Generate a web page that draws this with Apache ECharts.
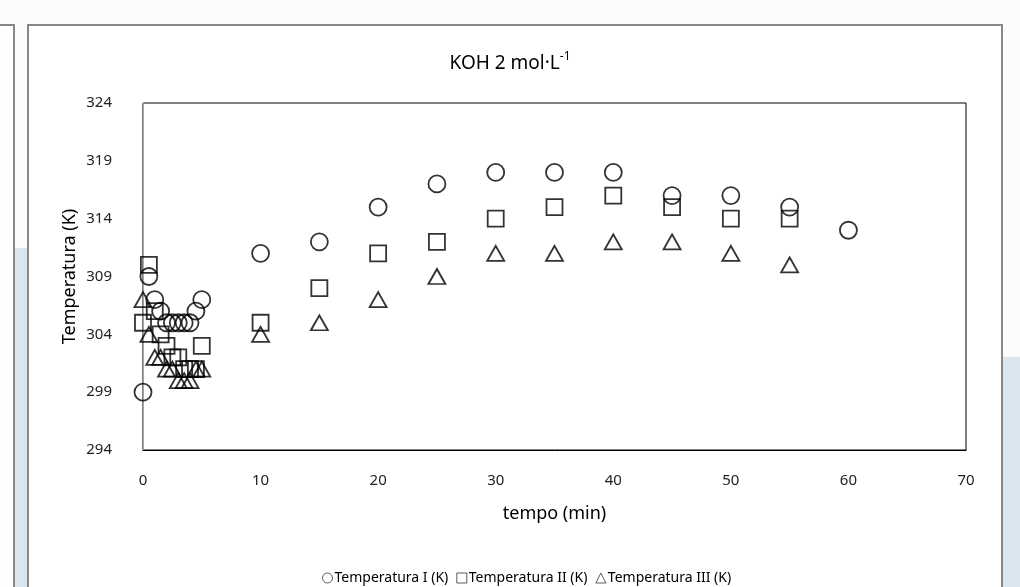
<!DOCTYPE html>
<html>
<head>
<meta charset="utf-8">
<title>KOH 2 mol·L-1</title>
<script src="https://cdn.jsdelivr.net/npm/echarts@6/dist/echarts.min.js"></script>
<style>
  html, body {
    margin: 0;
    padding: 0;
    width: 1020px;
    height: 587px;
    overflow: hidden;
    background: #fcfcfc;
    font-family: "Noto Sans", sans-serif;
  }
  /* light blue bands behind the panels */
  .band-left {
    position: absolute;
    left: 13px;
    top: 248px;
    width: 14px;
    height: 400px;
    background: #dae6ef;
  }
  .band-right {
    position: absolute;
    left: 1003px;
    top: 357px;
    width: 20px;
    height: 300px;
    background: #dae6ef;
  }
  .panel-left {
    position: absolute;
    left: -4px;
    top: 24px;
    width: 15px;
    height: 600px;
    border: 2px solid #888;
    background: #fefefe;
  }
  .chart-box {
    position: absolute;
    left: 27px;
    top: 24px;
    width: 972px;
    height: 600px;
    border: 2px solid #888;
    background: #fff;
  }
  #main {
    position: absolute;
    left: 0;
    top: 0;
    width: 1020px;
    height: 587px;
  }
</style>
</head>
<body>
<div class="band-left"></div>
<div class="band-right"></div>
<div class="panel-left"></div>
<div class="chart-box"></div>
<div id="main"></div>

<script>
// 数据 (tempo em min, temperatura em K)
var tempoI = [0, 0.5, 1, 1.5, 2, 2.5, 3, 3.5, 4, 4.5, 5, 10, 15, 20, 25, 30, 35, 40, 45, 50, 55, 60];
var tempI = [299, 309, 307, 306, 305, 305, 305, 305, 305, 306, 307, 311, 312, 315, 317, 318, 318, 318, 316, 316, 315, 313];

var tempoII = [0, 0.5, 1, 1.5, 2, 2.5, 3, 3.5, 4, 4.5, 5, 10, 15, 20, 25, 30, 35, 40, 45, 50, 55];
var tempII = [305, 310, 306, 304, 303, 302, 302, 301, 301, 301, 303, 305, 308, 311, 312, 314, 315, 316, 315, 314, 314];

var tempoIII = [0, 0.5, 1, 1.5, 2, 2.5, 3, 3.5, 4, 4.5, 5, 10, 15, 20, 25, 30, 35, 40, 45, 50, 55];
var tempIII = [307, 304, 302, 302, 301, 301, 300, 300, 300, 301, 301, 304, 305, 307, 309, 311, 311, 312, 312, 311, 310];

var seriesNames = ["Temperatura I (K)", "Temperatura II (K)", "Temperatura III (K)"];
var xTicks = [0, 10, 20, 30, 40, 50, 60, 70];
var yTicks = [294, 299, 304, 309, 314, 319, 324];

function pairs(xs, ys) {
  return xs.map(function (x, i) {
    return [x, ys[i]];
  });
}

var font = "Noto Sans";
var hollow = {
  color: "transparent",
  borderColor: "#000",
  borderWidth: 1.8
};

function makeSeries(name, symbol, size, data) {
  return {
    name: name,
    type: "scatter",
    symbol: symbol,
    symbolSize: size,
    itemStyle: hollow,
    data: data
  };
}

var myChart = echarts.init(document.getElementById("main"), null, { renderer: "canvas" });

var options = {
  animation: false,
  backgroundColor: "transparent",
  textStyle: { fontFamily: font },
  title: {
    text: "{a|KOH 2 mol·L}{b|-1}",
    left: "center",
    top: 46,
    textStyle: {
      fontWeight: "normal",
      rich: {
        a: { fontSize: 19, fontFamily: font, fontWeight: "normal", color: "#000", lineHeight: 25 },
        b: { fontSize: 12, fontFamily: font, fontWeight: "normal", color: "#000", verticalAlign: "top", lineHeight: 13 }
      }
    }
  },
  legend: {
    top: 566,
    left: 317,
    itemWidth: 10,
    itemHeight: 10,
    itemGap: 8,
    itemStyle: { color: "transparent", borderColor: "#333", borderWidth: 1 },
    textStyle: { fontSize: 14, color: "#000", fontFamily: font, padding: [0, 0, 0, -3] },
    data: [
      { name: seriesNames[0], icon: "circle" },
      { name: seriesNames[1], icon: "rect" },
      { name: seriesNames[2], icon: "triangle" }
    ]
  },
  grid: {
    left: 143,
    right: 54,
    top: 103,
    bottom: 137,
    containLabel: false,
    show: true,
    borderColor: "#000",
    borderWidth: 1,
    backgroundColor: "#fff"
  },
  xAxis: {
    type: "value",
    min: xTicks[0],
    max: xTicks[xTicks.length - 1],
    interval: 10,
    name: "tempo (min)",
    nameLocation: "middle",
    nameGap: 55,
    nameTextStyle: { fontSize: 18, color: "#000", fontFamily: font },
    axisLine: { show: true, lineStyle: { color: "#000", width: 1 } },
    axisTick: { show: false },
    splitLine: { show: false },
    axisLabel: { fontSize: 15, color: "#222", margin: 23, fontFamily: font }
  },
  yAxis: {
    type: "value",
    min: yTicks[0],
    max: yTicks[yTicks.length - 1],
    interval: 5,
    name: "Temperatura (K)",
    nameLocation: "middle",
    nameGap: 64,
    nameMoveOverlap: false,
    nameTextStyle: { fontSize: 18, color: "#000", fontFamily: font },
    axisLine: { show: true, lineStyle: { color: "#a6a6a6", width: 1 } },
    axisTick: { show: false },
    splitLine: { show: false },
    axisLabel: { fontSize: 15, color: "#222", margin: 31, fontFamily: font }
  },
  series: [
    makeSeries(seriesNames[0], "circle", 17, pairs(tempoI, tempI)),
    makeSeries(seriesNames[1], "rect", 16, pairs(tempoII, tempII)),
    makeSeries(seriesNames[2], "triangle", [17, 15], pairs(tempoIII, tempIII))
  ]
};

myChart.setOption(options);
</script>
</body>
</html>
